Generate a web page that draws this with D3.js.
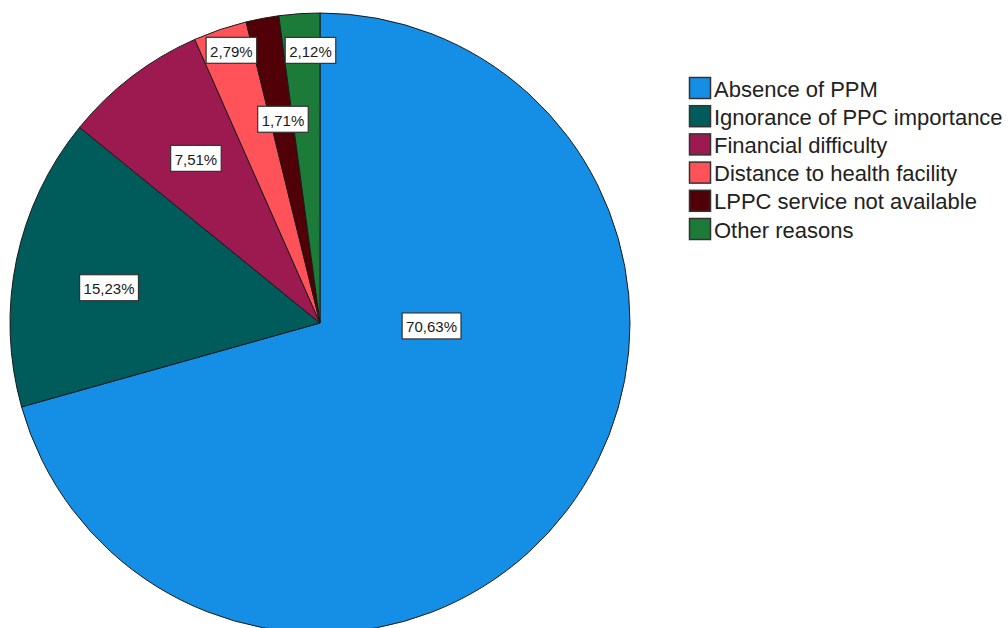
<!DOCTYPE html>
<html>
<head>
<meta charset="utf-8">
<script src="https://cdn.jsdelivr.net/npm/d3@7/dist/d3.min.js"></script>
<style>
  html, body { margin: 0; padding: 0; background: #ffffff; }
  svg { display: block; }
</style>
</head>
<body>
<svg id="chart" width="1008" height="628"></svg>
<script>
// ---- data ----
const categories = [
  "Absence of PPM",
  "Ignorance of PPC importance",
  "Financial difficulty",
  "Distance to health facility",
  "LPPC service not available",
  "Other reasons"
];
const values = [70.63, 15.23, 7.51, 2.79, 1.71, 2.12];
const valueLabels = ["70,63%", "15,23%", "7,51%", "2,79%", "1,71%", "2,12%"];
const colors = ["#158fe6", "#005b5b", "#9c1a50", "#ff5359", "#520008", "#1c7b38"];

// ---- label placement (angle in degrees clockwise from top, radius fraction) ----
const labelAngle = [91.5, 279.5, 323, 342, 349.7, 358];
const labelRadius = [0.36, 0.69, 0.665, 0.925, 0.668, 0.88];

// ---- layout ----
const cx = 320, cy = 323, R = 310;
const svg = d3.select("#chart");

const pie = d3.pie().sort(null).value(d => d)
  .startAngle(0).endAngle(2 * Math.PI);
const arcs = pie(values);
const arc = d3.arc().innerRadius(0).outerRadius(R);

const g = svg.append("g").attr("transform", `translate(${cx},${cy})`);

g.selectAll("path.slice")
  .data(arcs)
  .enter().append("path")
  .attr("class", "slice")
  .attr("d", arc)
  .attr("fill", (d, i) => colors[i])
  .attr("stroke", "#1a1a1a")
  .attr("stroke-width", 1)
  .attr("stroke-linejoin", "round");

// labels
const labelG = g.selectAll("g.lbl")
  .data(arcs)
  .enter().append("g")
  .attr("class", "lbl")
  .attr("transform", (d, i) => {
    const a = labelAngle[i] * Math.PI / 180;
    const r = labelRadius[i] * R;
    return `translate(${r * Math.sin(a)},${-r * Math.cos(a)})`;
  });

labelG.each(function (d, i) {
  const sel = d3.select(this);
  const t = sel.append("text")
    .attr("text-anchor", "middle")
    .attr("dominant-baseline", "central")
    .attr("font-family", "Liberation Sans, Arial, sans-serif")
    .attr("font-size", 15)
    .attr("fill", "#1a1a1a")
    .text(valueLabels[i]);
  const w = t.node().getComputedTextLength();
  sel.insert("rect", "text")
    .attr("x", -w / 2 - 4)
    .attr("y", -13)
    .attr("width", w + 8)
    .attr("height", 26)
    .attr("fill", "#ffffff")
    .attr("stroke", "#333333")
    .attr("stroke-width", 1.2);
  t.attr("y", 1);
});

// legend
const legendX = 689, legendY = 88, rowH = 28.2, sw = 21;
const legend = svg.append("g");
const rows = legend.selectAll("g.row")
  .data(categories)
  .enter().append("g")
  .attr("class", "row")
  .attr("transform", (d, i) => `translate(${legendX},${legendY + i * rowH})`);

rows.append("rect")
  .attr("x", 0.5)
  .attr("y", -sw / 2)
  .attr("width", sw)
  .attr("height", sw)
  .attr("fill", (d, i) => colors[i])
  .attr("stroke", "#333333")
  .attr("stroke-width", 1.5);

rows.append("text")
  .attr("x", sw + 4)
  .attr("y", 1)
  .attr("dominant-baseline", "central")
  .attr("font-family", "Liberation Sans, Arial, sans-serif")
  .attr("font-size", 22)
  .attr("fill", "#222222")
  .text(d => d);
</script>
</body>
</html>
